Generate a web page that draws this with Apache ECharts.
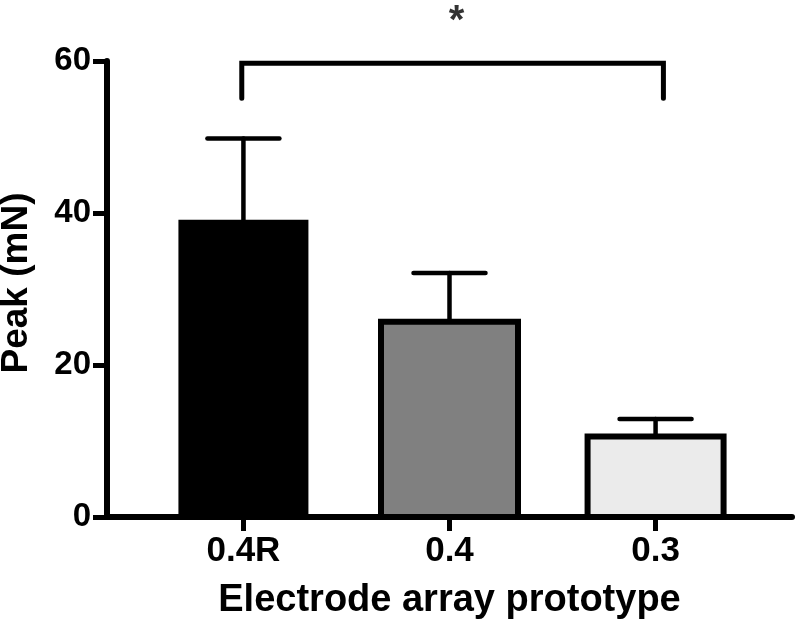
<!DOCTYPE html>
<html><head><meta charset="utf-8">
<script src="https://cdn.jsdelivr.net/npm/echarts@6/dist/echarts.min.js"></script>
<style>html,body{margin:0;padding:0;background:#fff}#c{width:796px;height:626px}</style>
</head><body><div id="c"></div>
<script>
// ---- data ----
const categories = ['0.4R', '0.4', '0.3'];
const categoryPos = [1, 2, 3];
const peakMean = [39.1, 25.7, 10.6];
const peakErrUp = [10.7, 6.4, 2.3];
const yTicks = [0, 20, 40, 60];
const sigBracketX = [0.992, 3.038];
const sigBracketY = [55.1, 59.7];
const sigLabel = '*';
const sigLabelPos = [2.034, 65.2];

// ---- styles ----
const FONT = '"Liberation Sans", Arial, Helvetica, sans-serif';
const barFill = ['#000000', '#808080', '#ebebeb'];
const barW = [130, 137, 136];
const barBorder = [0, 6, 6];

const barData = categoryPos.map((x, i) => [x, peakMean[i]]);
const errData = categoryPos.map((x, i) => [x, peakMean[i], peakMean[i] + peakErrUp[i]]);
const bracketData = [
  [sigBracketX[0], sigBracketY[0]], [sigBracketX[0], sigBracketY[1]],
  [sigBracketX[1], sigBracketY[1]], [sigBracketX[1], sigBracketY[0]]
];

const chart = echarts.init(document.getElementById('c'), null, {renderer: 'canvas'});
chart.setOption({
  animation: false,
  backgroundColor: '#ffffff',
  grid: {left: 107, right: 4, top: 61, bottom: 109, containLabel: false, outerBoundsMode: 'none'},
  xAxis: {
    type: 'value', min: 0.338, max: 3.662,
    splitLine: {show: false},
    axisLine: {show: true, onZero: false, lineStyle: {color: '#000', width: 6}},
    axisTick: {show: true, customValues: categoryPos, length: 14, lineStyle: {color: '#000', width: 5}},
    axisLabel: {
      customValues: categoryPos, margin: 17,
      formatter: v => categories[Math.round(v) - 1] || '',
      color: '#000', fontFamily: FONT, fontWeight: 'bold', fontSize: 35
    },
    name: 'Electrode array prototype', nameLocation: 'middle', nameGap: 65,
    nameTextStyle: {color: '#000', fontFamily: FONT, fontWeight: 'bold', fontSize: 38}
  },
  yAxis: {
    type: 'value', min: yTicks[0], max: yTicks[yTicks.length - 1], interval: 20,
    splitLine: {show: false},
    axisLine: {show: true, lineStyle: {color: '#000', width: 6}},
    axisTick: {show: true, length: 14, lineStyle: {color: '#000', width: 5}},
    axisLabel: {margin: 16, color: '#000', fontFamily: FONT, fontWeight: 'bold', fontSize: 33},
    name: 'Peak (mN)', nameLocation: 'middle', nameGap: 72, nameRotate: 90,
    nameTextStyle: {color: '#000', fontFamily: FONT, fontWeight: 'bold', fontSize: 37, padding: [0, 0, 0, 12]}
  },
  series: [
    {
      type: 'custom', z: 2, data: errData,
      renderItem(params, api) {
        const x = api.value(0);
        const p0 = api.coord([x, api.value(1)]);
        const p1 = api.coord([x, api.value(2)]);
        const st = {stroke: '#000', lineWidth: 4.5, lineCap: 'round'};
        return {type: 'group', children: [
          {type: 'line', shape: {x1: p0[0], y1: p0[1], x2: p1[0], y2: p1[1]}, style: st},
          {type: 'line', shape: {x1: p1[0] - 36, y1: p1[1], x2: p1[0] + 36, y2: p1[1]}, style: st}
        ]};
      }
    },
    {
      type: 'custom', z: 3, data: barData,
      renderItem(params, api) {
        const i = params.dataIndex;
        const x = api.value(0);
        const p0 = api.coord([x, 0]);
        const p1 = api.coord([x, api.value(1)]);
        const w = barW[i];
        return {type: 'rect',
          shape: {x: p0[0] - w / 2, y: p1[1], width: w, height: p0[1] - p1[1]},
          style: {fill: barFill[i], stroke: barBorder[i] ? '#000' : null, lineWidth: barBorder[i], lineJoin: 'miter'}};
      }
    },
    {
      type: 'line', z: 4, data: bracketData, symbol: 'none',
      lineStyle: {color: '#000', width: 5, cap: 'round', join: 'miter'}
    },
    {
      type: 'scatter', z: 5, clip: false, data: [sigLabelPos], symbolSize: 1,
      itemStyle: {color: 'rgba(0,0,0,0)'},
      label: {show: true, position: 'inside', formatter: sigLabel, color: '#000',
        fontFamily: FONT, fontWeight: 'bold', fontSize: 40}
    }
  ]
});
</script></body></html>
